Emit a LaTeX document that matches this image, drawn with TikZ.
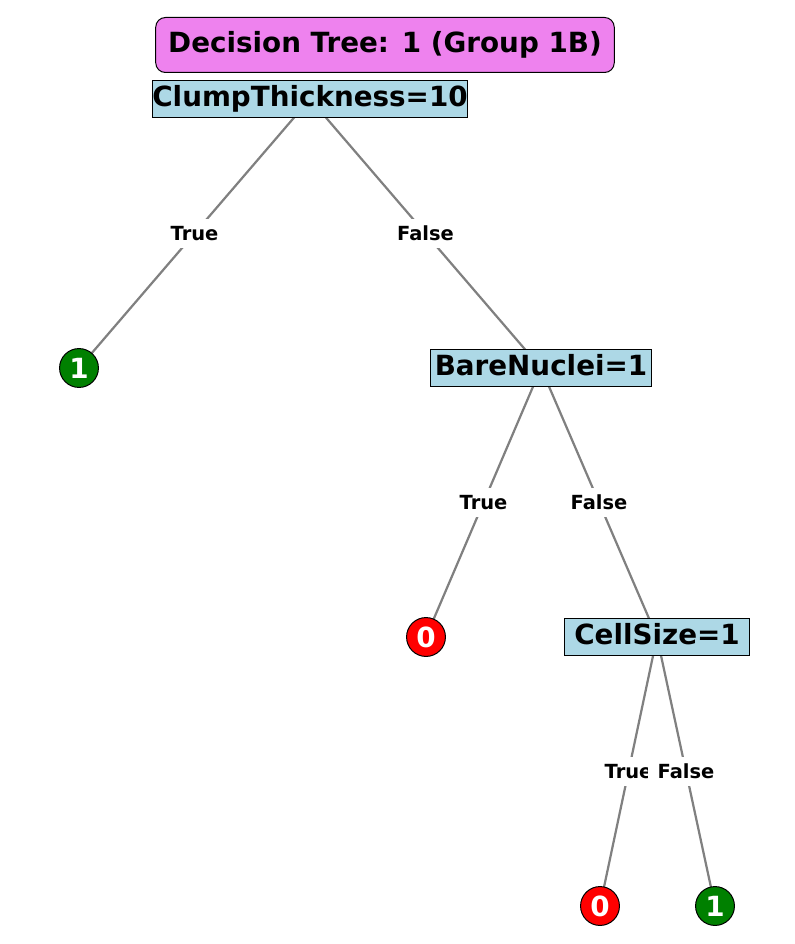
\documentclass[tikz,border=0pt]{standalone}
\usepackage{fontspec}
\setmainfont{DejaVu Sans}
\usetikzlibrary{backgrounds}

\definecolor{splitblue}{HTML}{ADD8E6}
\definecolor{headviolet}{HTML}{EE82EE}
\definecolor{leafgreen}{HTML}{008000}
\definecolor{leafred}{HTML}{FF0000}
\definecolor{edgegray}{HTML}{808080}

\tikzset{
  headbox/.style={draw=black, line width=0.72pt, fill=headviolet, rounded corners=7pt,
    font=\fontsize{20}{24}\selectfont\bfseries, inner xsep=9pt,
    text height=15.2pt, text depth=4.6pt, minimum height=39.6pt},
  split/.style={draw=black, line width=0.72pt, fill=splitblue,
    font=\fontsize{20}{24}\selectfont\bfseries, inner xsep=0pt,
    text height=15.2pt, text depth=4.6pt, minimum height=25.2pt},
  leaf/.style={circle, draw=black, line width=0.72pt, text=white, inner sep=0pt,
    minimum size=28pt, font=\fontsize{20}{24}\selectfont\bfseries,
    text height=14.6pt, text depth=0pt},
  edge/.style={draw=edgegray, line width=1.6pt},
  answer/.style={fill=white, font=\fontsize{14}{17}\selectfont\bfseries, inner xsep=7pt,
    inner ysep=5pt, text height=10.2pt, text depth=0.6pt}
}

\begin{document}
\begin{tikzpicture}[x=0.72pt,y=-0.72pt]
\path (0,0) rectangle (794,944);
% title
\node[headbox] (head) at (385,45) {Decision Tree: 1 (Group 1B)};
% tests
\node[split, minimum width=226pt] (clump) at (310,99) {ClumpThickness=10};
\node[split, minimum width=159pt] (bare) at (541,368) {BareNuclei=1};
\node[split, minimum width=132.5pt] (cell) at (657,637) {CellSize=1};
% leaves
\node[leaf, fill=leafgreen] (leafA) at (79,368) {1};
\node[leaf, fill=leafred] (leafB) at (426,637) {0};
\node[leaf, fill=leafred] (leafC) at (600,906) {0};
\node[leaf, fill=leafgreen] (leafD) at (715,906) {1};
% edges
\begin{scope}[on background layer]
\draw[edge] (clump.center) -- node[answer] {True} (leafA.center);
\draw[edge] (clump.center) -- node[answer] {False} (bare.center);
\draw[edge] (bare.center) -- node[answer] {True} (leafB.center);
\draw[edge] (bare.center) -- node[answer] {False} (cell.center);
\draw[edge] (cell.center) -- node[answer] {True} (leafC.center);
\draw[edge] (cell.center) -- node[answer] {False} (leafD.center);
\end{scope}
\end{tikzpicture}
\end{document}
